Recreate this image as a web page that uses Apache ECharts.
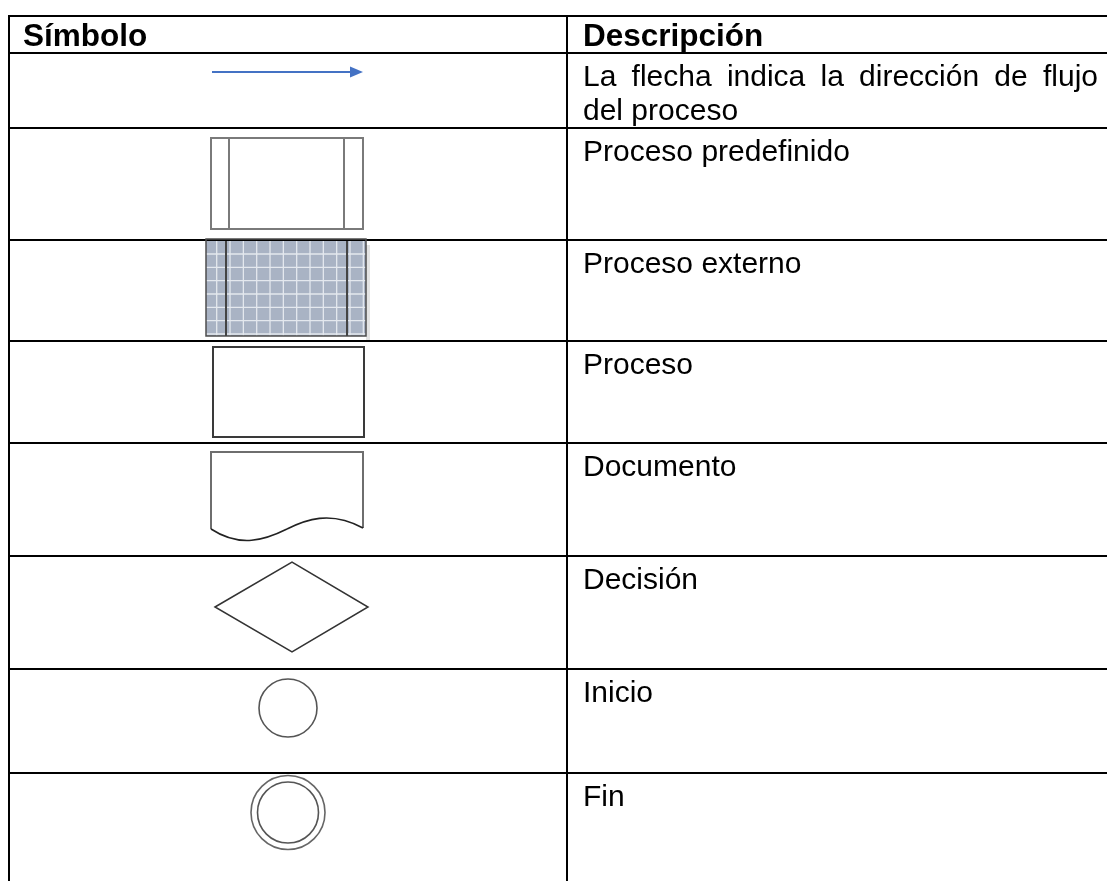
<!DOCTYPE html>
<html>
<head>
<meta charset="utf-8">
<script src="https://cdn.jsdelivr.net/npm/echarts@6/dist/echarts.min.js"></script>
<style>
html,body{margin:0;padding:0;background:#fff;}
#chart{width:1107px;height:881px;}
</style>
</head>
<body>
<div id="chart"></div>
<script>
// ---- data ----
var headers = ['Símbolo', 'Descripción'];
var symbolTypes = ['flecha', 'predefinido', 'externo', 'proceso', 'documento', 'decision', 'inicio', 'fin'];
var descriptions = [
  'La flecha indica la dirección de flujo del proceso',
  'Proceso predefinido',
  'Proceso externo',
  'Proceso',
  'Documento',
  'Decisión',
  'Inicio',
  'Fin'
];

// ---- layout ----
var FONT = '"Liberation Sans", Arial, sans-serif';
var FS = 30;
var HFS = 31.5;
var rowLines = [16, 53, 128, 240, 341, 443, 556, 669, 773];
var colLeft = 9, colDiv = 567, W = 1107, H = 881;
var textX = 583, textRight = 1098;
var lineGap = 34;
var textOffset = 25;

var chart = echarts.init(document.getElementById('chart'), null, {renderer: 'canvas'});
var g = [];

// table lines
rowLines.forEach(function (y) {
  g.push({type: 'line', shape: {x1: colLeft - 1, y1: y, x2: W, y2: y}, style: {stroke: '#000', lineWidth: 2}});
});
g.push({type: 'line', shape: {x1: colLeft, y1: rowLines[0] - 1, x2: colLeft, y2: H}, style: {stroke: '#000', lineWidth: 2}});
g.push({type: 'line', shape: {x1: colDiv, y1: rowLines[0] - 1, x2: colDiv, y2: H}, style: {stroke: '#000', lineWidth: 2}});

// headers
var hy = 37;
g.push({type: 'text', x: 23, y: hy, style: {text: headers[0], font: 'bold ' + HFS + 'px ' + FONT, fill: '#000', verticalAlign: 'middle'}});
g.push({type: 'text', x: textX, y: hy, style: {text: headers[1], font: 'bold ' + HFS + 'px ' + FONT, fill: '#000', verticalAlign: 'middle'}});

// measure helper
var mctx = document.createElement('canvas').getContext('2d');
mctx.font = FS + 'px ' + FONT;
function tw(s) { return mctx.measureText(s).width; }

// descriptions with justified wrapping
descriptions.forEach(function (desc, i) {
  var top = rowLines[i + 1];
  var words = desc.split(' ');
  var lines = [], cur = [];
  var avail = textRight - textX;
  words.forEach(function (w) {
    var trial = cur.concat([w]).join(' ');
    if (cur.length && tw(trial) > avail) { lines.push(cur); cur = [w]; }
    else cur.push(w);
  });
  if (cur.length) lines.push(cur);
  lines.forEach(function (ws, li) {
    var cy = top + textOffset + li * lineGap;
    var isLast = li === lines.length - 1;
    if (isLast || ws.length < 2) {
      g.push({type: 'text', x: textX, y: cy, style: {text: ws.join(' '), font: FS + 'px ' + FONT, fill: '#000', verticalAlign: 'middle'}});
    } else {
      var sum = 0; ws.forEach(function (w) { sum += tw(w); });
      var gap = (avail - sum) / (ws.length - 1);
      var x = textX;
      ws.forEach(function (w) {
        g.push({type: 'text', x: x, y: cy, style: {text: w, font: FS + 'px ' + FONT, fill: '#000', verticalAlign: 'middle'}});
        x += tw(w) + gap;
      });
    }
  });
});

// symbols
function drawSymbol(type, top, bottom) {
  switch (type) {
    case 'flecha':
      g.push({type: 'line', shape: {x1: 212, y1: 72, x2: 353, y2: 72}, style: {stroke: '#4472C4', lineWidth: 2}});
      g.push({type: 'polygon', shape: {points: [[350, 66.5], [363, 72], [350, 77.5]]}, style: {fill: '#4472C4'}});
      break;
    case 'predefinido':
      g.push({type: 'rect', shape: {x: 211, y: 138, width: 152, height: 91}, style: {fill: 'none', stroke: '#7a7a7a', lineWidth: 2}});
      g.push({type: 'line', shape: {x1: 229, y1: 138, x2: 229, y2: 229}, style: {stroke: '#7a7a7a', lineWidth: 2}});
      g.push({type: 'line', shape: {x1: 344, y1: 138, x2: 344, y2: 229}, style: {stroke: '#7a7a7a', lineWidth: 2}});
      break;
    case 'externo':
      var x0 = 206, x1 = 366, y0 = top + 1, y1 = 336;
      g.push({type: 'rect', shape: {x: x1, y: y0 + 4, width: 4, height: y1 - y0}, style: {fill: '#e3e3e3'}});
      g.push({type: 'rect', shape: {x: x0, y: y0, width: x1 - x0, height: y1 - y0}, style: {fill: '#a9b3c4'}});
      for (var gx = 216.7; gx < x1; gx += 13.33) {
        g.push({type: 'line', shape: {x1: gx, y1: y0, x2: gx, y2: y1}, style: {stroke: '#e4e8ee', lineWidth: 1.3}});
      }
      for (var gy = 254; gy < y1; gy += 13.33) {
        g.push({type: 'line', shape: {x1: x0, y1: gy, x2: x1, y2: gy}, style: {stroke: '#e4e8ee', lineWidth: 1.3}});
      }
      g.push({type: 'rect', shape: {x: x0, y: y0 - 2, width: x1 - x0, height: y1 - y0 + 2}, style: {fill: 'none', stroke: '#4d4d4d', lineWidth: 1.5}});
      g.push({type: 'line', shape: {x1: 226, y1: y0, x2: 226, y2: y1}, style: {stroke: '#444', lineWidth: 2}});
      g.push({type: 'line', shape: {x1: 347, y1: y0, x2: 347, y2: y1}, style: {stroke: '#444', lineWidth: 2}});
      break;
    case 'proceso':
      g.push({type: 'rect', shape: {x: 213, y: 347, width: 151, height: 90}, style: {fill: 'none', stroke: '#3a3a3a', lineWidth: 2}});
      break;
    case 'documento':
      g.push({type: 'polyline', shape: {points: [[211, 529], [211, 452], [363, 452], [363, 528]]}, style: {fill: 'none', stroke: '#6e6e6e', lineWidth: 2}});
      g.push({type: 'bezierCurve', shape: {x1: 211, y1: 529, cpx1: 240, cpy1: 548, cpx2: 265, cpy2: 540, x2: 287, y2: 529}, style: {fill: 'none', stroke: '#222', lineWidth: 1.6}});
      g.push({type: 'bezierCurve', shape: {x1: 287, y1: 529, cpx1: 305, cpy1: 520, cpx2: 330, cpy2: 510, x2: 363, y2: 528}, style: {fill: 'none', stroke: '#222', lineWidth: 1.6}});
      break;
    case 'decision':
      g.push({type: 'polygon', shape: {points: [[215, 607], [292, 562], [368, 607], [292, 652]]}, style: {fill: 'none', stroke: '#333', lineWidth: 1.5}});
      break;
    case 'inicio':
      g.push({type: 'circle', shape: {cx: 288, cy: 708, r: 29}, style: {fill: 'none', stroke: '#555', lineWidth: 1.6}});
      break;
    case 'fin':
      g.push({type: 'circle', shape: {cx: 288, cy: 812.5, r: 37}, style: {fill: 'none', stroke: '#666', lineWidth: 1.6}});
      g.push({type: 'circle', shape: {cx: 288, cy: 812.5, r: 30.5}, style: {fill: 'none', stroke: '#555', lineWidth: 1.6}});
      break;
  }
}
symbolTypes.forEach(function (t, i) {
  drawSymbol(t, rowLines[i + 1], rowLines[i + 2] || H);
});

chart.setOption({
  backgroundColor: '#fff',
  animation: false,
  graphic: {elements: g}
});
</script>
</body>
</html>
